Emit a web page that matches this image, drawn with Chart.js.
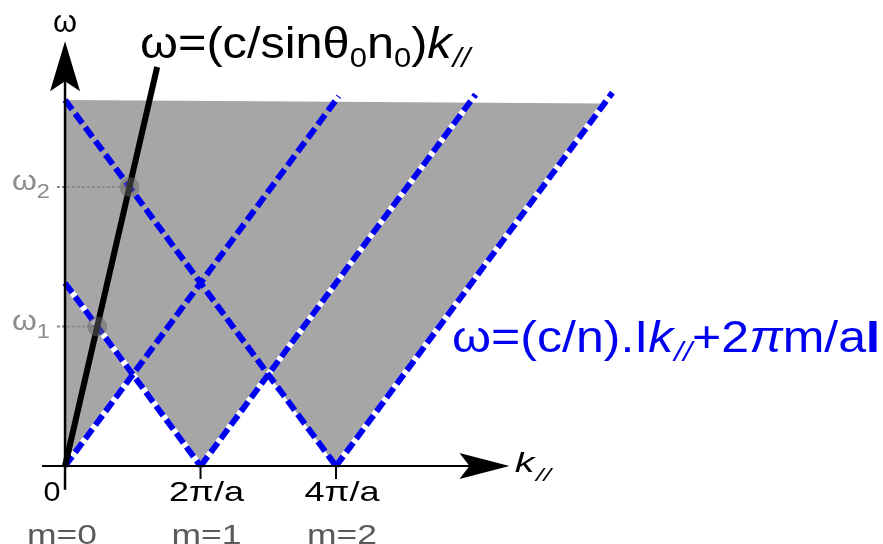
<!DOCTYPE html>
<html>
<head>
<meta charset="utf-8">
<script src="https://cdn.jsdelivr.net/npm/chart.js@4.4.1/dist/chart.umd.min.js"></script>
<style>
  html, body { margin: 0; padding: 0; background: #ffffff; }
  #wrap { width: 883px; height: 544px; }
</style>
</head>
<body>
<div id="wrap"><canvas id="c" width="883" height="544"></canvas></div>
<script>
// k// in units of 2π/a, ω in units of (c/n)(2π/a)
const kTickValues = [0, 1, 2];
const kTickLabels = ['0', '2π/a', '4π/a'];
const modeLabels = ['m=0', 'm=1', 'm=2'];

// allowed region (grey): lower edge follows the folded light lines, upper edge is the cut-off
const regionLower = [
  { x: 0, y: 0 }, { x: 0.5, y: 0.5 }, { x: 1, y: 0 },
  { x: 1.5, y: 0.5 }, { x: 2, y: 0 }, { x: 3.98, y: 1.98 }
];
const regionUpper = [{ x: 0, y: 2.0 }, { x: 3.98, y: 1.98 }];

// light lines ω = (c/n)|k// + 2πm/a|
const lineM0Up   = [{ x: 0, y: 0 }, { x: 2.02, y: 2.02 }];
const lineM1Down = [{ x: 0, y: 1 }, { x: 1, y: 0 }];
const lineM1Up   = [{ x: 1, y: 0 }, { x: 3.03, y: 2.03 }];
const lineM2Down = [{ x: 0, y: 2 }, { x: 2, y: 0 }];
const lineM2Up   = [{ x: 2, y: 0 }, { x: 4.04, y: 2.04 }];
// stretch of the m=0 line along the lower edge of the region
const lineM0UpEdge = [{ x: 0, y: 0 }, { x: 0.5, y: 0.5 }];

// incidence line ω = (c/sinθ0 n0) k//
const incidenceLine = [{ x: 0, y: 0 }, { x: 0.68, y: 2.18 }];

// crossings of the incidence line with the light lines
const crossingPoints = [{ x: 0.238, y: 0.762 }, { x: 0.476, y: 1.524 }];
const crossingLabels = ['1', '2'];

const BLUE = '#0000f0';
const FONT = '"Liberation Sans", Arial, sans-serif';

function whiteUnder(data) {
  return { data, showLine: true, borderColor: '#ffffff', borderWidth: 6, pointRadius: 0, order: 6 };
}
function blueDashed(data) {
  return { data, showLine: true, borderColor: BLUE, borderWidth: 6, borderDash: [12, 5], borderCapStyle: 'butt',
    pointRadius: 0, order: 4 };
}

const datasets = [
  { data: regionUpper, showLine: true, borderWidth: 0, borderColor: 'rgba(0,0,0,0)', pointRadius: 0, order: 10 },
  { data: regionLower, showLine: true, borderWidth: 0, borderColor: 'rgba(0,0,0,0)', pointRadius: 0,
    backgroundColor: '#a6a6a6', fill: '-1', order: 9 },
  whiteUnder(lineM0UpEdge), whiteUnder(lineM1Down), whiteUnder(lineM1Up), whiteUnder(lineM2Up),
  blueDashed(lineM0Up), blueDashed(lineM1Down), blueDashed(lineM1Up), blueDashed(lineM2Down), blueDashed(lineM2Up),
  // dotted guides from the ω axis to each crossing
  ...crossingPoints.map(p => ({
    data: [{ x: -0.06, y: p.y }, { x: p.x, y: p.y }], showLine: true,
    borderColor: '#8a8a8a', borderWidth: 2, borderDash: [3, 2], pointRadius: 0, order: 3
  })),
  { data: incidenceLine, showLine: true, borderColor: '#000000', borderWidth: 6, pointRadius: 0, order: 2 },
  { data: crossingPoints, showLine: false, pointRadius: 10, pointBackgroundColor: 'rgba(100,100,100,0.5)',
    pointBorderWidth: 0, order: 1 }
];

// draws a run of text pieces (own font / vertical shift each), stretched to a given width
function drawRich(ctx, parts, x, y, color, width, align) {
  ctx.save();
  ctx.textBaseline = 'alphabetic';
  ctx.textAlign = 'left';
  let natural = 0;
  for (const p of parts) {
    ctx.font = p.f;
    natural += ctx.measureText(p.t).width + (p.sp || 0);
  }
  const s = width ? width / natural : 1;
  const total = natural * s;
  let left = x;
  if (align === 'center') left = x - total / 2;
  ctx.translate(left, y);
  ctx.scale(s, 1);
  ctx.fillStyle = color;
  let cx = 0;
  for (const p of parts) {
    ctx.font = p.f;
    ctx.fillText(p.t, cx, p.dy || 0);
    cx += ctx.measureText(p.t).width + (p.sp || 0);
  }
  ctx.restore();
}

function arrowHead(ctx, tipX, tipY, dirX, dirY, len, half, notch) {
  const px = -dirY, py = dirX;
  const bx = tipX - dirX * len, by = tipY - dirY * len;
  ctx.beginPath();
  ctx.moveTo(tipX, tipY);
  ctx.lineTo(bx + px * half, by + py * half);
  ctx.lineTo(tipX - dirX * (len - notch), tipY - dirY * (len - notch));
  ctx.lineTo(bx - px * half, by - py * half);
  ctx.closePath();
  ctx.fill();
}

const decorations = {
  id: 'decorations',
  afterDatasetsDraw(chart) {
    const ctx = chart.ctx;
    const xs = chart.scales.x, ys = chart.scales.y;
    const X = v => xs.getPixelForValue(v), Y = v => ys.getPixelForValue(v);
    const x0 = X(0), y0 = Y(0);

    ctx.save();
    ctx.strokeStyle = '#000';
    ctx.fillStyle = '#000';
    ctx.lineCap = 'butt';

    // ω axis
    ctx.lineWidth = 2.5;
    ctx.beginPath();
    ctx.moveTo(x0, Y(-0.13));
    ctx.lineTo(x0, Y(2.25));
    ctx.stroke();
    arrowHead(ctx, x0, Y(2.32), 0, -1, 50, 15, 10);

    // k// axis
    ctx.lineWidth = 2;
    ctx.beginPath();
    ctx.moveTo(X(-0.17), y0);
    ctx.lineTo(X(3.2), y0);
    ctx.stroke();
    arrowHead(ctx, X(3.28), y0, 1, 0, 50, 13, 10);

    // ticks
    ctx.lineWidth = 2;
    kTickValues.forEach(v => {
      if (v === 0) return;
      ctx.beginPath();
      ctx.moveTo(X(v), y0);
      ctx.lineTo(X(v), y0 + 13);
      ctx.stroke();
    });
    ctx.restore();

    // tick labels and diffraction orders
    kTickValues.forEach((v, i) => {
      const tickCenter = v === 0 ? X(v) - 13 : X(v) + 6;
      const tickWidth = v === 0 ? 17 : 75;
      drawRich(ctx, [{ t: kTickLabels[i], f: '28px ' + FONT }], tickCenter, 501, '#000', tickWidth, 'center');
      drawRich(ctx, [{ t: modeLabels[i], f: '28px ' + FONT }], X(v) + (v === 0 ? -3 : 6), 544, '#5a5a5a', 70, 'center');
    });

    // axis names
    drawRich(ctx, [{ t: 'ω', f: '32px ' + FONT }], x0 - 12, 32, '#000', 24);
    drawRich(ctx, [
      { t: 'k', f: 'italic 28px ' + FONT, sp: 1 },
      { t: '//', f: 'italic 19px ' + FONT, dy: 9 }
    ], X(3.32), 472, '#000', 36);

    // ω1, ω2 labels
    crossingPoints.forEach((p, i) => {
      drawRich(ctx, [
        { t: 'ω', f: '27px ' + FONT },
        { t: crossingLabels[i], f: '20px ' + FONT, dy: 8 }
      ], 12, Y(p.y) + 3, '#8c8c8c', 38);
    });

    // formulas
    drawRich(ctx, [
      { t: 'ω=(c/sinθ', f: '44px ' + FONT },
      { t: '0', f: '28px ' + FONT, dy: 9 },
      { t: 'n', f: '44px ' + FONT },
      { t: '0', f: '28px ' + FONT, dy: 9 },
      { t: ')', f: '44px ' + FONT },
      { t: 'k', f: 'italic 44px ' + FONT, sp: 1 },
      { t: '//', f: 'italic 28px ' + FONT, dy: 9 }
    ], 140, 58, '#000', 330);

    drawRich(ctx, [
      { t: 'ω=(c/n).I', f: '44px ' + FONT },
      { t: 'k', f: 'italic 44px ' + FONT, sp: 1 },
      { t: '//', f: 'italic 28px ' + FONT, dy: 9 },
      { t: '+2', f: '44px ' + FONT },
      { t: 'π', f: 'italic 44px ' + FONT },
      { t: 'm/a', f: '44px ' + FONT },
      { t: 'I', f: 'bold 44px ' + FONT }
    ], 452, 352, BLUE, 428);
  }
};

new Chart(document.getElementById('c'), {
  type: 'scatter',
  data: { datasets },
  options: {
    responsive: false,
    animation: false,
    layout: { padding: 0, autoPadding: false },
    plugins: { legend: { display: false }, tooltip: { enabled: false } },
    scales: {
      x: { type: 'linear', display: false, min: -0.48, max: 6.037 },
      y: { type: 'linear', display: false, min: -0.426, max: 2.546 }
    }
  },
  plugins: [decorations]
});
</script>
</body>
</html>
